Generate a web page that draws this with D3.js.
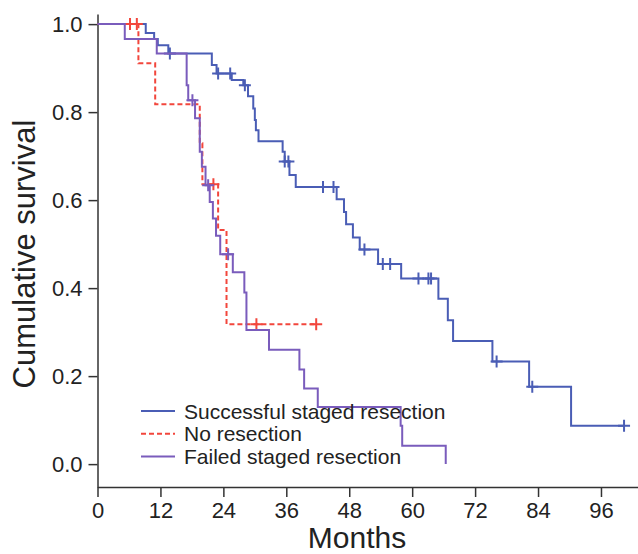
<!DOCTYPE html>
<html>
<head>
<meta charset="utf-8">
<script src="https://cdn.jsdelivr.net/npm/d3@7"></script>
<style>
  body { margin: 0; background: #fff; }
  svg { display: block; font-family: Arial, "Liberation Sans", sans-serif; }
</style>
</head>
<body>
<svg id="chart" width="638" height="554"></svg>
<script>
// x ticks (months) and y ticks (survival)
var monthTicks = [0, 12, 24, 36, 48, 60, 72, 84, 96]
var survTicks = [0, 0.2, 0.4, 0.6, 0.8, 1.0]

var groupNames = ["Successful staged resection", "No resection", "Failed staged resection"]

// Successful staged resection: event times and survival after each step
var succTimes = [0, 9.2, 10.8, 11.5, 13.5, 21.8, 22.7, 25.6, 27.8, 28.7, 29.7, 30.0, 30.2, 30.7, 35.3, 35.7, 36.6, 37.8,
    45.6, 47.0, 47.4, 48.7, 50.0, 53.5, 57.9, 65.0, 66.8, 67.8, 75.3, 82.3, 90.3, 100.4]
var succSurv = [1.0, 0.98, 0.966, 0.952, 0.933, 0.907, 0.888, 0.873, 0.861, 0.836, 0.808, 0.782, 0.759, 0.734, 0.71, 0.688, 0.657, 0.63,
    0.602, 0.573, 0.545, 0.515, 0.488, 0.455, 0.422, 0.376, 0.327, 0.28, 0.233, 0.176, 0.087, 0.087]
var succCensT = [13.8, 23.0, 25.3, 28.1, 35.7, 36.4, 43.0, 45.0, 50.9, 54.4, 55.8, 61.2, 63.1, 63.6, 76.1, 82.9, 100.4]
var succCensS = [0.933, 0.888, 0.888, 0.861, 0.688, 0.688, 0.63, 0.63, 0.488, 0.455, 0.455, 0.422, 0.422, 0.422, 0.233, 0.176, 0.087]

// No resection
var noneTimes = [0, 7.8, 11.0, 19.5, 20.0, 23.0, 24.6, 41.7]
var noneSurv = [1.0, 0.911, 0.818, 0.729, 0.636, 0.532, 0.318, 0.318]
var noneCensT = [6.2, 7.5, 22.1, 30.3, 41.7]
var noneCensS = [1.0, 1.0, 0.636, 0.318, 0.318]

// Failed staged resection
var failTimes = [0, 5.2, 11.3, 17.0, 17.3, 18.6, 19.5, 19.9, 20.6, 21.4, 22.0, 22.6, 23.4, 25.8, 28.0, 28.4, 32.7,
    38.5, 39.4, 42.0, 57.8, 58.1, 66.4]
var failSurv = [1.0, 0.966, 0.933, 0.861, 0.827, 0.786, 0.71, 0.676, 0.634, 0.596, 0.558, 0.519, 0.477, 0.436, 0.39, 0.305, 0.26,
    0.215, 0.172, 0.13, 0.087, 0.042, 0.0]
var failCensT = [18.1, 21.1, 24.9]
var failCensS = [0.827, 0.634, 0.477]

var colors = ["#4a5db5", "#f2463c", "#7a5cbc"]

var svg = d3.select("#chart")
var x = d3.scaleLinear().domain([0, 103.06]).range([97.5, 638])
var y = d3.scaleLinear().domain([-0.052, 1.023]).range([487, 14])

// axes
var xAxis = svg.append("g")
    .attr("transform", "translate(0,487)")
    .call(d3.axisBottom(x).tickValues(monthTicks).tickSize(10).tickPadding(5).tickSizeOuter(0))
var yAxis = svg.append("g")
    .attr("transform", "translate(97.5,0)")
    .call(d3.axisLeft(y).tickValues(survTicks).tickFormat(d3.format(".1f")).tickSize(9).tickPadding(6).tickSizeOuter(0))

svg.selectAll(".domain").attr("stroke", "#333").attr("stroke-width", 1.5)
svg.selectAll(".tick line").attr("stroke", "#333").attr("stroke-width", 1.5)
svg.selectAll(".tick text").attr("fill", "#222").style("font-size", "22px")

svg.append("text")
    .attr("x", 357).attr("y", 548)
    .attr("text-anchor", "middle")
    .attr("fill", "#222")
    .style("font-size", "30px")
    .text("Months")

svg.append("text")
    .attr("transform", "translate(35,254) rotate(-90)")
    .attr("text-anchor", "middle")
    .attr("fill", "#222")
    .style("font-size", "31px")
    .text("Cumulative survival")

var line = d3.line()
    .x(function(d) { return x(d[0]) })
    .y(function(d) { return y(d[1]) })
    .curve(d3.curveStepAfter)

function drawCurve(times, surv, censT, censS, color, dash) {
    var pts = times.map(function(t, i) { return [t, surv[i]] })
    svg.append("path")
        .attr("d", line(pts))
        .attr("fill", "none")
        .attr("stroke", color)
        .attr("stroke-width", 2)
        .attr("stroke-dasharray", dash)
    var cens = censT.map(function(t, i) { return [t, censS[i]] })
    svg.selectAll(null)
        .data(cens)
        .enter().append("path")
        .attr("transform", function(d) { return "translate(" + x(d[0]) + "," + y(d[1]) + ")" })
        .attr("d", "M-6,0H6M0,-6V6")
        .attr("fill", "none")
        .attr("stroke", color)
        .attr("stroke-width", 2)
}

drawCurve(succTimes, succSurv, succCensT, succCensS, colors[0], null)
drawCurve(noneTimes, noneSurv, noneCensT, noneCensS, colors[1], "5,3")
drawCurve(failTimes, failSurv, failCensT, failCensS, colors[2], null)

// legend
var legend = svg.append("g")
var dashes = [null, "5,3", null]
for (let i = 0; i < groupNames.length; i++) {
    let ly = 411 + i * 22.7
    legend.append("line")
        .attr("x1", 141).attr("x2", 175)
        .attr("y1", ly).attr("y2", ly)
        .attr("stroke", colors[i])
        .attr("stroke-width", 2)
        .attr("stroke-dasharray", dashes[i])
    legend.append("text")
        .attr("x", 184).attr("y", ly + 7.5)
        .attr("fill", "#222")
        .style("font-size", "21px")
        .text(groupNames[i])
}
</script>
</body>
</html>
